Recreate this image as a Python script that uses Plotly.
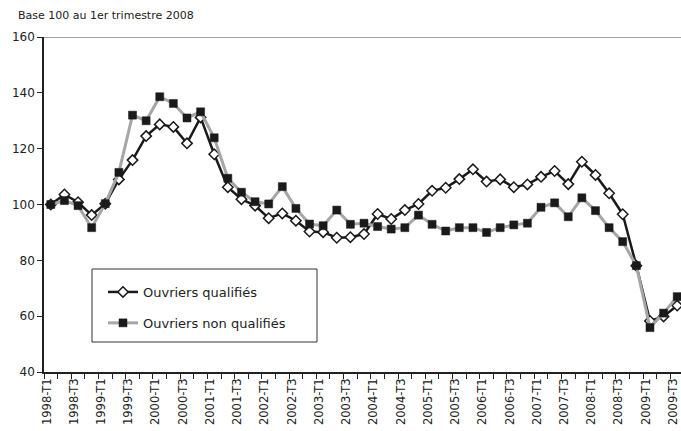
import plotly.graph_objects as go

years = list(range(1998, 2010))
quarters = [f"{y}-T{q}" for y in years for q in range(1, 5)][:47]
tick_labels = [q if q.endswith("T1") or q.endswith("T3") else "" for q in quarters]

qualifies = [100, 103.6, 100.8, 96.2, 100.3, 109, 115.9, 124.5, 128.7, 127.8, 121.9, 131.2,
             118, 106.2, 101.9, 99.6, 95.1, 96.8, 94.2, 90.3, 90.1, 88.1, 88.3, 89.4,
             96.6, 94.8, 98, 100.2, 104.9, 106, 109.1, 112.6, 108.2, 109, 106.2, 107.2,
             109.9, 112, 107.3, 115.3, 110.6, 104, 96.5, 78.1, 58.3, 59.9, 63.8]
non_qualifies = [100, 101.4, 99.6, 91.7, 100.3, 111.5, 132, 130, 138.6, 136.2, 131, 133.2,
                 123.9, 109.4, 104.4, 101, 100.2, 106.4, 98.6, 93, 92.4, 98, 92.9, 93.3,
                 92.1, 91.2, 91.7, 96.2, 92.9, 90.5, 91.7, 91.7, 90, 91.7, 92.7, 93.3,
                 99, 100.6, 95.6, 102.4, 97.8, 91.7, 86.7, 78.1, 55.9, 61.1, 67]

FONT = "DejaVu Sans"

fig = go.Figure()
fig.add_trace(go.Scatter(
    x=quarters, y=qualifies, name="Ouvriers qualifiés", mode="lines+markers",
    line=dict(color="#1a1a1a", width=2.5),
    marker=dict(symbol="diamond", size=8, color="white", line=dict(color="#1a1a1a", width=1.5)),
    legendgroup="a", cliponaxis=False,
))
fig.add_trace(go.Scatter(
    x=quarters, y=non_qualifies, name="Ouvriers non qualifiés", mode="lines+markers",
    line=dict(color="#a6a6a6", width=3),
    marker=dict(symbol="square", size=8, color="#1a1a1a", line=dict(color="#1a1a1a", width=0.5)),
    legendgroup="b", cliponaxis=False,
))

W, H = 681, 431
L, T, B = 44, 37, 59
pw, ph = W - L, H - T - B

def px(x):
    return (x - L) / pw

def py(y):
    return (H - B - y) / ph

fig.add_shape(type="line", xref="paper", yref="y", x0=0, x1=1, y0=160, y1=160,
              line=dict(color="#808080", width=1.5), layer="below")
fig.add_shape(type="rect", xref="paper", yref="paper",
              x0=px(92), x1=px(317), y0=py(342), y1=py(269),
              line=dict(color="#333333", width=1), fillcolor="white", layer="below")

fig.add_annotation(text="Base 100 au 1er trimestre 2008", xref="paper", yref="paper",
                   x=px(16), y=py(16), xanchor="left", yanchor="middle", showarrow=False,
                   font=dict(family=FONT, size=11, color="#222"))

fig.update_layout(
    width=W, height=H,
    margin=dict(l=L, r=0, t=T, b=B, autoexpand=False),
    paper_bgcolor="white", plot_bgcolor="white",
    font=dict(family=FONT, size=12, color="#222"),
    showlegend=True,
    legend=dict(x=px(103), y=py(277), xanchor="left", yanchor="top",
                bgcolor="rgba(0,0,0,0)", borderwidth=0, tracegroupgap=11,
                font=dict(family=FONT, size=13, color="#222")),
    xaxis=dict(type="category", range=[-0.5, 46.5 - 3 / 13.62], automargin=False,
               tickmode="array", tickvals=quarters, ticktext=tick_labels,
               tickson="boundaries", tickangle=-90, ticks="outside", ticklen=5,
               ticklabelshift=-4,
               tickcolor="#222", showline=True, linecolor="#222", linewidth=1.5,
               showgrid=False, zeroline=False, tickfont=dict(size=11.5)),
    yaxis=dict(range=[40, 160], dtick=20, ticks="outside", ticklen=5, tickcolor="#222",
               automargin=False,
               showline=True, linecolor="#222", linewidth=1.5, showgrid=False,
               zeroline=False, tickfont=dict(size=12)),
)

fig.write_html("out.html", config={"displayModeBar": False},
               post_script="document.body.style.margin='0';document.body.style.overflow='hidden';")
